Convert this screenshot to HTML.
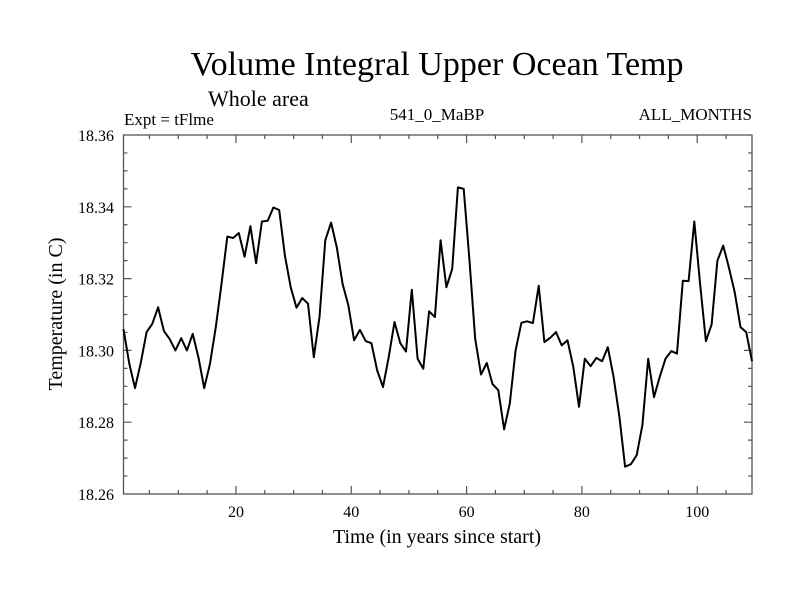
<!DOCTYPE html>
<html><head><meta charset="utf-8"><style>
body{margin:0;background:#fff}
svg{display:block;font-family:"Liberation Serif",serif}
</style></head><body>
<svg id="chart" width="800" height="600" viewBox="0 0 800 600">
<rect width="800" height="600" fill="#fff"/>
<text x="437" y="75" font-size="34" text-anchor="middle">Volume Integral Upper Ocean Temp</text>
<text x="208" y="106" font-size="22">Whole area</text>
<text x="124" y="125" font-size="17">Expt = tFlme</text>
<text x="437" y="120" font-size="17" text-anchor="middle">541_0_MaBP</text>
<text x="752" y="120" font-size="17" text-anchor="end">ALL_MONTHS</text>
<text x="62" y="314" font-size="20" text-anchor="middle" transform="rotate(-90 62 314)">Temperature (in C)</text>
<text x="437" y="543" font-size="20" text-anchor="middle">Time (in years since start)</text>
<g id="axes"></g>
<g id="series"></g>
</svg>
<script>
const years = [];
for (let i = 0; i < 110; i++) years.push(i + 0.5);
const temps = [18.3059,18.2963,18.2895,18.2966,18.3051,18.3074,18.312,18.3054,18.3032,18.300,
18.3034,18.300,18.3046,18.298,18.2895,18.2963,18.3065,18.3185,18.3317,18.3313,
18.3327,18.3261,18.3346,18.3243,18.3359,18.3361,18.3398,18.3391,18.3264,18.3176,
18.3119,18.3146,18.313,18.2981,18.3093,18.3307,18.3356,18.3287,18.3185,18.3125,
18.3028,18.3057,18.3026,18.302,18.2944,18.2898,18.2981,18.3079,18.302,18.2997,
18.3169,18.2977,18.2949,18.3109,18.3093,18.3307,18.3176,18.3227,18.3454,18.345,
18.325,18.3032,18.2933,18.2965,18.2906,18.2889,18.278,18.2852,18.300,18.3077,
18.3081,18.3076,18.318,18.3023,18.3035,18.3051,18.3014,18.3028,18.2954,18.2843,
18.2977,18.2956,18.2979,18.297,18.3009,18.2926,18.2815,18.2676,18.2683,18.2708,
18.2792,18.2977,18.287,18.2926,18.2977,18.2998,18.2991,18.3194,18.3193,18.3359,
18.3185,18.3026,18.3072,18.325,18.3292,18.3231,18.3162,18.3065,18.3051,18.297];
const xTicks = [20, 40, 60, 80, 100];
const yTicks = [18.26, 18.28, 18.30, 18.32, 18.34, 18.36];
const yTickLabels = ["18.26", "18.28", "18.30", "18.32", "18.34", "18.36"];

const X0 = 123.5, X1 = 752, Y0 = 494, Y1 = 135;
const xMin = 0.5, xMax = 109.5, yMin = 18.26, yMax = 18.36;
const xs = v => X0 + (v - xMin) / (xMax - xMin) * (X1 - X0);
const ys = v => Y0 - (v - yMin) / (yMax - yMin) * (Y0 - Y1);
const NS = "http://www.w3.org/2000/svg";
const axes = document.getElementById("axes");
function mk(tag, attrs, parent) {
  const e = document.createElementNS(NS, tag);
  for (const k in attrs) e.setAttribute(k, attrs[k]);
  parent.appendChild(e);
  return e;
}
const frame = mk("rect", {x: X0, y: Y1, width: X1 - X0, height: Y0 - Y1, fill: "none", stroke: "#555", "stroke-width": 1.3}, axes);


// x ticks (minor every 5 years)
for (let t = 5; t <= 105; t += 5) {
  const major = t % 20 === 0;
  const L = major ? 8 : 4;
  const x = xs(t);
  const tk = mk("path", {d: `M${x},${Y0}V${Y0 - L}M${x},${Y1}V${Y1 + L}`, stroke: "#555", "stroke-width": 1.2}, axes);
  
  
}
xTicks.forEach(t => {
  const lb = mk("text", {x: xs(t), y: 517, "font-size": 16, "text-anchor": "middle"}, axes);
  lb.textContent = String(t);
  
  
});
// y ticks (minor every 0.005)
for (let i = 1; i < 20; i++) {
  const v = yMin + i * 0.005;
  const major = i % 4 === 0;
  const L = major ? 8 : 4;
  const y = ys(v);
  const tk = mk("path", {d: `M${X0},${y}H${X0 + L}M${X1},${y}H${X1 - L}`, stroke: "#555", "stroke-width": 1.2}, axes);
  
  
}
yTicks.forEach((v, i) => {
  const lb = mk("text", {x: 114, y: ys(v) + 6, "font-size": 16, "text-anchor": "end"}, axes);
  lb.textContent = yTickLabels[i];
  
  
});
const d = years.map((yr, i) => (i ? "L" : "M") + xs(yr).toFixed(1) + "," + ys(temps[i]).toFixed(1)).join("");
const line = mk("path", {d: d, fill: "none", stroke: "#000", "stroke-width": 2, "stroke-linejoin": "round"}, document.getElementById("series"));


</script>
</body></html>
